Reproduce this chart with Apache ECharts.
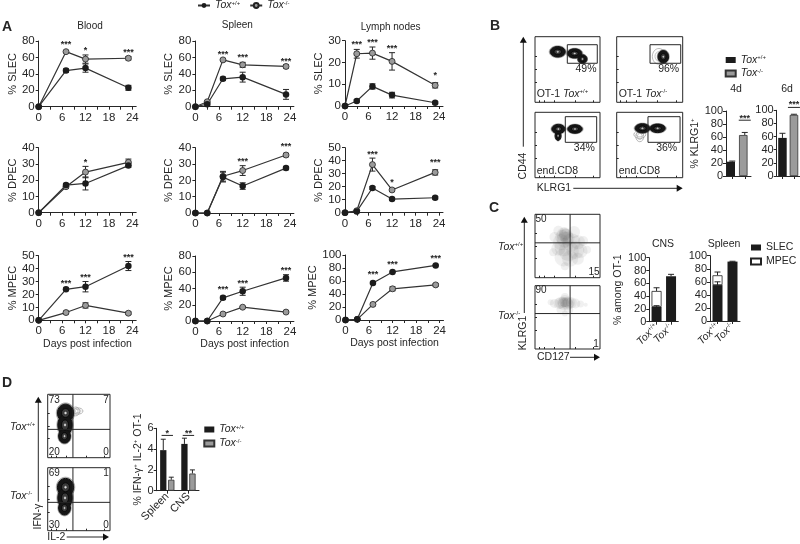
<!DOCTYPE html>
<html><head><meta charset="utf-8">
<style>html,body{margin:0;padding:0;background:#fff}#c{width:800px;height:544px}</style>
<script src="https://cdn.jsdelivr.net/npm/echarts@6/dist/echarts.min.js"></script>
</head><body><div id="c"></div>
<script>
// ---------- data ----------
const daysBlood=[0,7,12,23];
const daysOther=[0,3,7,12,23];
const xTickVals=[0,3,6,9,12,15,18,21,24];
const xLabelVals=[0,6,12,18,24];

const bloodSlecWt=[0,44,47,23], bloodSlecWtErr=[0,2,5,3];
const bloodSlecKo=[0,67,58,59], bloodSlecKoErr=[0,1,5,2];
const bloodSlecStars=[[7,77.6,'***'],[12,71,'*'],[23,69,'***']];
const bloodDpecWt=[0,17,18,29], bloodDpecWtErr=[0,1,4,1];
const bloodDpecKo=[0,16,25,31], bloodDpecKoErr=[0,1,3.5,2];
const bloodDpecStars=[[12,32.4,'*']];
const bloodMpecWt=[0,24,26,42], bloodMpecWtErr=[0,1,4,3.5];
const bloodMpecKo=[0,6,11.5,5.5], bloodMpecKoErr=[0,1,2,1];
const bloodMpecStars=[[7,30,'***'],[12,34.3,'***'],[23,50,'***']];

const spleenSlecWt=[0,3,34,36,15], spleenSlecWtErr=[0,1,2,6,6];
const spleenSlecKo=[0,6,57,51,49], spleenSlecKoErr=[0,1,1,3,2];
const spleenSlecStars=[[7,66,'***'],[12,62,'***'],[23,58,'***']];
const spleenDpecWt=[0,0,22,16.5,27.5], spleenDpecWtErr=[0,0,3,2,1];
const spleenDpecKo=[0,0,22.5,26,35.5], spleenDpecKoErr=[0,0,3,3,1];
const spleenDpecStars=[[12,33,'***'],[23,41.7,'***']];
const spleenMpecWt=[0,0,28.5,36.6,53], spleenMpecWtErr=[0,0,2,5,4];
const spleenMpecKo=[0,0,8.6,17,11], spleenMpecKoErr=[0,0,1,1,1];
const spleenMpecStars=[[7,41,'***'],[12,48.4,'***'],[23,65,'***']];

const lymphSlecWt=[0,2.3,9,5,1.5], lymphSlecWtErr=[0,.5,1.2,1.3,.5];
const lymphSlecKo=[0,24,24.3,20.5,9.5], lymphSlecKoErr=[0,2,2.8,4,1.2];
const lymphSlecStars=[[3,29,'***'],[7,30.2,'***'],[12,27.4,'***'],[23,14.7,'*']];
const lymphDpecWt=[0,1,19,10.5,11.5], lymphDpecWtErr=[0,.5,1,1,1];
const lymphDpecKo=[0,1.5,37,17.5,31], lymphDpecKoErr=[0,.5,5,1,2];
const lymphDpecStars=[[7,46,'***'],[12,25,'*'],[23,40,'***']];
const lymphMpecWt=[0,1,57,74,84], lymphMpecWtErr=[0,.5,1,1,1];
const lymphMpecKo=[0,1,24,48,54], lymphMpecKoErr=[0,.5,2,3,2];
const lymphMpecStars=[[7,72.8,'***'],[12,87.7,'***'],[23,97,'***']];

const genotypes=['Tox+/+','Tox-/-'];
const klrg4d=[22,63], klrg4dErr=[1,4];
const klrg6d=[58,93], klrg6dErr=[7,1];
const cnsSlec=[23,71], cnsSlecErr=[2,3];
const cnsMpec=[25,null], cnsMpecErr=[5,0];
const spleenSlec=[55,91], spleenSlecErr=[5,.5];
const spleenMpec=[15,null], spleenMpecErr=[5,0];
const ifnCats=['Spleen','CNS'];
const ifnWt=[3.9,4.5], ifnWtErr=[1.05,.55];
const ifnKo=[1.05,1.65], ifnKoErr=[.25,.35];

// flow plots, in percent of each plot's box: gate [x0,y0,x1,y1]; contour [x,y,rx,ry]
const gateB1=[49.7,59.5,95.8,87.8], blobsB1=[[35,77,11.5,8],[61,74.5,11,7],[73,66,7,6.5]];
const gateB2=[50.5,59.5,97,87.8], blobsB2=[[70.6,69.5,8,9.5]], ringsB2=[[64,70,10,12]];
const gateB3=[46.6,54.1,94.9,93.3], blobsB3=[[35.5,64,4.5,7],[36,74.5,10,7],[61.5,74.5,11,6.5]];
const gateB4=[47.4,54.1,96,93.3], blobsB4=[[39,75.5,11,7],[62,75.5,11.5,6.5]], ringsB4=[[35,63,6,8],[35,66,9,6]];
const quadC=[54,55], quadC2=[54,56];
const cloudC1=[[46,68,12],[44,68,14],[48,66,14],[46,70,12],[42,64,14],[50,62,14],[46,60,16],[40,56,16],[56,56,18],[66,56,14],[44,48,18],[52,42,20],[62,44,18],[70,42,14],[36,46,14],[44,32,18],[54,30,16],[66,30,12],[74,58,10],[30,64,10],[60,72,12],[36,74,10],[80,44,8],[46,18,8],[28,40,8]];
const cloudC2=[[46,74,10],[43,74,11],[49,74,11],[40,73,12],[52,73,12],[37,72,11],[56,73,11],[46,76,12],[44,71,12],[50,71,12],[30,72,9],[62,72,10],[70,71,7],[46,82,8],[52,62,9],[40,62,9],[46,56,6],[24,74,6],[78,70,4]];
const quadD1=[40.5,44.7], quadD2=[40.5,45];
const blobsD1=[[28.6,70.5,13,14],[27.8,51.6,11.5,16],[27,34,9.5,11]], ringsD1=[[48.6,73.6,8,5],[45,73,6,7]];
const blobsD2=[[28.6,69,13,14],[27.8,52,11.5,16],[27,36,9.5,11]];

// ---------- helpers ----------
const INK='#262626', GREY='#9b9b9b', FONT='"Liberation Sans",Arial,sans-serif';
const grids=[],xAxes=[],yAxes=[],series=[];
const axisBase=()=>({axisLine:{show:true,onZero:false,lineStyle:{color:INK,width:1}},
  axisTick:{show:true,length:3,lineStyle:{color:INK,width:1}},splitLine:{show:false},
  axisLabel:{color:INK,fontFamily:FONT,fontSize:11.5}});
const richTox={i:{fontStyle:'italic',fontFamily:FONT,fontSize:10.5,color:INK},s:{fontFamily:FONT,fontSize:6,color:INK,verticalAlign:'top',padding:[0,0,4,0]}};
const toxRich=n=>'{i|Tox}{s|'+n.replace('Tox','').replace(/ .*/,'')+'}';

function lines(list,color,width){return list.map(l=>({type:'line',shape:{x1:l[0],y1:l[1],x2:l[2],y2:l[3]},style:{stroke:color||INK,lineWidth:width||1}}));}
function errSeries(g,xs,vals,errs,opt){opt=opt||{};
  const base=opt.base||vals.map(()=>0);
  const data=xs.map((x,i)=>[x,(vals[i]||0)+base[i],errs[i]]);
  series.push({type:'custom',xAxisIndex:g,yAxisIndex:g,z:opt.z||3,silent:true,data,
   renderItem(p,api){const x=api.value(0),y=api.value(1),e=api.value(2);
    if(!e)return;const dx=opt.dx||0,c=opt.cap||3;
    const a=api.coord([x,y+e]),b=api.coord([x,opt.up?y:y-e]);
    const ls=[[a[0]+dx,a[1],b[0]+dx,b[1]],[a[0]+dx-c,a[1],a[0]+dx+c,a[1]]];
    if(!opt.up)ls.push([b[0]+dx-c,b[1],b[0]+dx+c,b[1]]);
    return {type:'group',children:lines(ls)};}});
}
function starSeries(g,data,opt){opt=opt||{};
  series.push({type:'custom',xAxisIndex:g,yAxisIndex:g,z:6,silent:true,data:data.map(d=>[d[0],d[1]]),
   renderItem(p,api){const d=data[p.dataIndex],c=api.coord([d[0],d[1]]);const kids=[];
    if(opt.bracket){kids.push(...lines([[c[0]-opt.bracket,c[1]+(opt.gap||4),c[0]+opt.bracket,c[1]+(opt.gap||4)]]));}
    kids.push({type:'text',x:c[0],y:c[1]+2,style:{text:d[2],align:'center',verticalAlign:'middle',font:'bold 9px '+FONT,fill:INK}});
    return {type:'group',children:kids};}});
}
function linePanel(left,y0,yTop,perDay,yMax,yInt,yName,nameGap,xs,wt,wtE,ko,koE,stars,xName){
  const g=grids.length;
  grids.push({left,top:yTop,width:perDay*25,height:y0-yTop});
  const xa=axisBase();
  xAxes.push(Object.assign(xa,{gridIndex:g,type:'value',min:0,max:25,interval:6,
    axisTick:Object.assign(xa.axisTick,{customValues:xTickVals}),
    axisLabel:Object.assign(xa.axisLabel,{customValues:xLabelVals,margin:5}),
    name:xName||'',nameLocation:'middle',nameGap:16,nameTextStyle:{color:INK,fontFamily:FONT,fontSize:10.5}}));
  const ya=axisBase();
  yAxes.push(Object.assign(ya,{gridIndex:g,type:'value',min:0,max:yMax,interval:yInt,
    axisLabel:Object.assign(ya.axisLabel,{margin:4}),
    name:yName,nameLocation:'middle',nameGap,nameTextStyle:{color:INK,fontFamily:FONT,fontSize:11}}));
  errSeries(g,xs,wt,wtE,{z:2}); errSeries(g,xs,ko,koE,{z:2});
  const mk=(name,v,fill)=>series.push({type:'line',name,xAxisIndex:g,yAxisIndex:g,z:4,clip:false,
    data:xs.map((x,i)=>[x,v[i]]),symbol:'circle',symbolSize:name==='Tox+/+'?6.5:6,showSymbol:true,
    lineStyle:{color:'#333',width:1.2},itemStyle:{color:fill,borderColor:'#222',borderWidth:name==='Tox+/+'?0:.8}});
  mk('Tox-/-',ko,GREY); mk('Tox+/+',wt,'#1c1c1c');
  starSeries(g,stars);
}
function barAxes(left,y0,yTop,width,cats,yMax,yInt,opts){opts=opts||{};
  const g=grids.length;
  grids.push({left,top:yTop,width,height:y0-yTop});
  const xa=axisBase();
  xAxes.push(Object.assign(xa,{gridIndex:g,type:'category',data:cats,
    axisTick:Object.assign(xa.axisTick,{alignWithLabel:true,interval:0}),
    axisLabel:opts.rotate?{interval:0,rotate:45,margin:4,color:INK,fontFamily:FONT,fontSize:11,
      formatter:opts.tox?toxRich:undefined,rich:richTox}:{show:false}}));
  const ya=axisBase();
  yAxes.push(Object.assign(ya,{gridIndex:g,type:'value',min:0,max:yMax,interval:yInt,
    axisLabel:Object.assign(ya.axisLabel,{margin:3,fontSize:11}),name:opts.name||'',nameLocation:'middle',nameGap:opts.gap||20,
    nameTextStyle:{color:INK,fontFamily:FONT,fontSize:10.5,rich:{a:{fontFamily:FONT,fontSize:10.5,color:INK},s:{fontFamily:FONT,fontSize:6,color:INK,verticalAlign:'top'}}}}));
  return g;
}
function flowBox(left,top,w,h){
  const g=grids.length;
  grids.push({show:true,left,top,width:w,height:h,borderColor:INK,borderWidth:1,backgroundColor:'#fff'});
  const tick=v=>({show:true,inside:true,length:2,lineStyle:{color:INK},customValues:v});
  xAxes.push({gridIndex:g,type:'value',min:0,max:100,axisLine:{show:false},axisTick:tick([6,14,30,62,90]),axisLabel:{show:false},splitLine:{show:false}});
  yAxes.push({gridIndex:g,type:'value',min:0,max:100,axisLine:{show:false},axisTick:tick([30,50,70]),axisLabel:{show:false},splitLine:{show:false}});
  return g;
}
function ell(c,s,k,fill,stroke,lw){return {type:'ellipse',shape:{cx:c[0],cy:c[1],rx:s[0]*k,ry:s[1]*k},style:{fill,stroke,lineWidth:lw}};}
function contourSeries(g,blobs,light){
  const render=draw=>(p,api)=>draw(api.coord([api.value(0),api.value(1)]),api.size([api.value(2),api.value(3)]));
  if(light){
    series.push({type:'custom',xAxisIndex:g,yAxisIndex:g,z:2,silent:true,data:blobs,
      renderItem:render((c,s)=>({type:'group',children:[ell(c,s,1,'none','#999',.7),ell(c,s,.6,'none','#aaa',.7)]}))});
    return;
  }
  series.push({type:'custom',xAxisIndex:g,yAxisIndex:g,z:2,silent:true,data:blobs,
    renderItem:render((c,s)=>ell(c,s,1.14,'#b5b5b5','#888',.6))});
  series.push({type:'custom',xAxisIndex:g,yAxisIndex:g,z:3,silent:true,data:blobs,
    renderItem:render((c,s)=>ell(c,s,1,'#161616','#111',1))});
  series.push({type:'custom',xAxisIndex:g,yAxisIndex:g,z:4,silent:true,data:blobs,
    renderItem:render((c,s)=>({type:'group',children:[ell(c,s,.5,'#3a3a3a','#000',.7),ell(c,s,.12,'#ddd','#ddd',.4)]}))});
}
function gateSeries(g,gate){
  series.push({type:'custom',xAxisIndex:g,yAxisIndex:g,z:5,silent:true,data:[gate],
   renderItem(p,api){const a=api.coord([api.value(0),api.value(1)]),b=api.coord([api.value(2),api.value(3)]);
    return {type:'rect',shape:{x:a[0],y:b[1],width:b[0]-a[0],height:a[1]-b[1]},style:{fill:'none',stroke:INK,lineWidth:1}};}});
}
function quadSeries(g,q){
  series.push({type:'custom',xAxisIndex:g,yAxisIndex:g,z:5,silent:true,data:[q],
   renderItem(p,api){const x=api.value(0),y=api.value(1),a=api.coord([x,0]),b=api.coord([x,100]),c=api.coord([0,y]),d=api.coord([100,y]);
    return {type:'group',children:lines([[a[0],a[1],b[0],b[1]],[c[0],c[1],d[0],d[1]]])};}});
}
function cloudSeries(g,pts){
  series.push({type:'scatter',xAxisIndex:g,yAxisIndex:g,z:2,silent:true,data:pts,symbolSize:v=>v[2],
    itemStyle:{color:'rgba(60,60,60,.09)',shadowBlur:6,shadowColor:'rgba(60,60,60,.18)'}});
}

// ---------- panel A ----------
const pb=3.9,ps=3.94,pl=3.92;
linePanel(38.7,106.7,41,pb,80,20,'% SLEC',18,daysBlood,bloodSlecWt,bloodSlecWtErr,bloodSlecKo,bloodSlecKoErr,bloodSlecStars);
linePanel(38.7,212.7,147.7,pb,40,10,'% DPEC',18,daysBlood,bloodDpecWt,bloodDpecWtErr,bloodDpecKo,bloodDpecKoErr,bloodDpecStars);
linePanel(38.7,320.3,255.7,pb,50,10,'% MPEC',18,daysBlood,bloodMpecWt,bloodMpecWtErr,bloodMpecKo,bloodMpecKoErr,bloodMpecStars,'Days post infection');
linePanel(195.4,106.7,41,ps,80,20,'% SLEC',21,daysOther,spleenSlecWt,spleenSlecWtErr,spleenSlecKo,spleenSlecKoErr,spleenSlecStars);
linePanel(195.4,213,147.7,ps,40,10,'% DPEC',21,daysOther,spleenDpecWt,spleenDpecWtErr,spleenDpecKo,spleenDpecKoErr,spleenDpecStars);
linePanel(195.4,321,256,ps,80,20,'% MPEC',21,daysOther,spleenMpecWt,spleenMpecWtErr,spleenMpecKo,spleenMpecKoErr,spleenMpecStars,'Days post infection');
linePanel(345,106,40.7,pl,30,10,'% SLEC',21,daysOther,lymphSlecWt,lymphSlecWtErr,lymphSlecKo,lymphSlecKoErr,lymphSlecStars);
linePanel(345,212.7,147.7,pl,50,10,'% DPEC',21,daysOther,lymphDpecWt,lymphDpecWtErr,lymphDpecKo,lymphDpecKoErr,lymphDpecStars);
linePanel(345.5,320,255,pl,100,20,'% MPEC',21,daysOther,lymphMpecWt,lymphMpecWtErr,lymphMpecKo,lymphMpecKoErr,lymphMpecStars,'Days post infection');

// ---------- panel B ----------
[[535,36.7,65,65.6,gateB1,blobsB1],[616.7,36.7,66,65.6,gateB2,blobsB2,ringsB2],[535,112.3,65,65.4,gateB3,blobsB3],[616.7,112.3,66,65.4,gateB4,blobsB4,ringsB4]].forEach(b=>{
  const g=flowBox(b[0],b[1],b[2],b[3]);if(b[6])contourSeries(g,b[6],true);contourSeries(g,b[5]);gateSeries(g,b[4]);});
function simpleBars(g,vals,errs,name,barWidth){
  series.push({type:'bar',name,xAxisIndex:g,yAxisIndex:g,barWidth,z:2,
    data:vals.map((v,i)=>({value:v,itemStyle:i?{color:GREY,borderColor:'#333',borderWidth:.8}:{color:'#1c1c1c'}}))});
  errSeries(g,[0,1],vals,errs,{up:true,cap:3,z:1});
}
const gB1=barAxes(726,176,111,25,genotypes,100,20,{name:'{a|% KLRG1}{s|+}',gap:22});
simpleBars(gB1,klrg4d,klrg4dErr,'sw',8.5);
starSeries(gB1,[[0.5,92,'***']],{bracket:6,gap:4});
const gB2=barAxes(776.7,176,110.3,23,genotypes,100,20);
simpleBars(gB2,klrg6d,klrg6dErr,'sw',8.5);
starSeries(gB2,[[0.5,112,'***']],{bracket:6,gap:5});
// swatches for the shared legend
['Tox+/+ ','Tox-/- '].forEach((n,i)=>series.push({type:'bar',name:n,xAxisIndex:gB1,yAxisIndex:gB1,data:[],itemStyle:i?{color:GREY,borderColor:'#333',borderWidth:.8}:{color:'#1c1c1c'}}));

// ---------- panel C ----------
const gC1=flowBox(535,214.3,65,63.4);cloudSeries(gC1,cloudC1);quadSeries(gC1,quadC);
const gC2=flowBox(535,285.7,65,63.3);cloudSeries(gC2,cloudC2);quadSeries(gC2,quadC2);
function stackBars(g,s,m,sE,mE){
  const gs='st'+g;
  series.push({type:'bar',name:'SLEC',stack:gs,xAxisIndex:g,yAxisIndex:g,barWidth:10,z:3,data:s,itemStyle:{color:'#1c1c1c'}});
  series.push({type:'bar',name:'MPEC',stack:gs,xAxisIndex:g,yAxisIndex:g,barWidth:10,z:2,data:m,itemStyle:{color:'#fff',borderColor:'#222',borderWidth:.8}});
  errSeries(g,[0,1],s,sE,{up:true,cap:3,z:4});
  errSeries(g,[0,1],m,mE,{up:true,cap:3,z:1,base:s});
}
const gC3=barAxes(649.3,321.7,257.7,29,genotypes,100,20,{rotate:true,tox:true,name:'% among OT-1',gap:20});
stackBars(gC3,cnsSlec,cnsMpec,cnsSlecErr,cnsMpecErr);
const gC4=barAxes(710,321,255.7,30,genotypes,100,20,{rotate:true,tox:true});
stackBars(gC4,spleenSlec,spleenMpec,spleenSlecErr,spleenMpecErr);

// ---------- panel D ----------
const gD1=flowBox(47.7,394.3,62.3,63.4);contourSeries(gD1,ringsD1,true);contourSeries(gD1,blobsD1);quadSeries(gD1,quadD1);
const gD2=flowBox(47.7,467.7,62.3,63);contourSeries(gD2,blobsD2);quadSeries(gD2,quadD2);
const gD3=barAxes(156.7,490.7,428.3,42.3,ifnCats,6,2,{rotate:true,name:'{a|% IFN-γ}{s|+}{a| IL-2}{s|+}{a| OT-1}',gap:12});
const dBar=(name,v,col,bc)=>series.push({type:'bar',name,xAxisIndex:gD3,yAxisIndex:gD3,barWidth:6.3,barGap:'27%',z:2,data:v,itemStyle:{color:col,borderColor:bc,borderWidth:bc?.8:0}});
dBar('Tox+/+  ',ifnWt,'#1c1c1c');dBar('Tox-/-  ',ifnKo,GREY,'#333');
errSeries(gD3,[0,1],ifnWt,ifnWtErr,{up:true,cap:2.5,dx:-4,z:1});
errSeries(gD3,[0,1],ifnKo,ifnKoErr,{up:true,cap:2.5,dx:4,z:1});
starSeries(gD3,[[0,5.7,'*'],[1,5.7,'**']],{bracket:5.7,gap:4});

// ---------- annotation text & arrows ----------
const gfx=[];
const T=(x,y,text,o)=>{o=o||{};gfx.push({type:'text',x,y,rotation:o.rot||0,z:20,silent:true,style:{text,align:o.align||'left',verticalAlign:'middle',
  font:(o.w||'normal')+' '+(o.size||10.5)+'px '+FONT,fill:INK,rich:o.rich}});};
const TOX=n=>'{i|Tox}{s|'+n+'}';
[['A',5,27],['B',493,26],['C',492,208],['D',5,383]].forEach(l=>T(l[1]-3,l[2],l[0],{w:'bold',size:14}));
T(90,26.7,'Blood',{align:'center',size:10});T(237.3,25,'Spleen',{align:'center',size:10});T(390.7,27,'Lymph nodes',{align:'center',size:10});
// B labels
T(586,69,'49%',{align:'center'});T(668.7,69,'96%',{align:'center'});T(584.3,148.3,'34%',{align:'center'});T(666.7,148.3,'36%',{align:'center'});
T(536.7,93.7,'OT-1 '+TOX('+/+'),{rich:richTox});T(618.7,93.7,'OT-1 '+TOX('-/-'),{rich:richTox});
T(536.7,171.3,'end.CD8');T(618.7,171.3,'end.CD8');
T(736,89,'4d',{align:'center'});T(787,89,'6d',{align:'center'});
T(536.7,188.3,'KLRG1');T(523,166,'CD44',{rot:Math.PI/2,align:'center'});
// C labels
[[541,219,'50'],[594,272.7,'15'],[541,290,'90'],[596,344,'1']].forEach(a=>T(a[0],a[1],a[2],{align:'center',size:10}));
T(498,246.7,TOX('+/+'),{rich:richTox});T(498,316,TOX('-/-'),{rich:richTox});
T(663,244,'CNS',{align:'center'});T(724,244,'Spleen',{align:'center'});
T(537,357.3,'CD127');T(523,333,'KLRG1',{rot:Math.PI/2,align:'center'});
// D labels
[[54.3,400.7,'73'],[106,400.7,'7'],[54.3,452.7,'20'],[106,452.7,'0'],[54.3,473,'69'],[106,473,'1'],[54.3,525.7,'30'],[106,525.7,'0']].forEach(a=>T(a[0],a[1],a[2],{align:'center',size:10}));
T(10,426.7,TOX('+/+'),{rich:richTox});T(10,496,TOX('-/-'),{rich:richTox});
T(47.3,537,'IL-2');T(38,516.7,'IFN-γ',{rot:Math.PI/2,align:'center'});
// arrows
function arrowUp(x,y1,y2){gfx.push({type:'line',z:20,silent:true,shape:{x1:x,y1,x2:x,y2:y2+4},style:{stroke:INK,lineWidth:1}});
  gfx.push({type:'polygon',z:20,silent:true,shape:{points:[[x,y2],[x-3.5,y2+6],[x+3.5,y2+6]]},style:{fill:'#111'}});}
function arrowRight(y,x1,x2){gfx.push({type:'line',z:20,silent:true,shape:{x1,y1:y,x2:x2-4,y2:y},style:{stroke:INK,lineWidth:1}});
  gfx.push({type:'polygon',z:20,silent:true,shape:{points:[[x2,y],[x2-6,y-3.5],[x2-6,y+3.5]]},style:{fill:'#111'}});}
arrowUp(523.3,146.7,36.7);arrowRight(188.3,573.3,682.7);
arrowUp(524.3,313,216.7);arrowRight(357.3,570,600);
arrowUp(38.3,501.7,396.7);arrowRight(537,66.7,109);

const legendBase={selectedMode:false,orient:'vertical',textStyle:{rich:richTox},formatter:n=>toxRich(n.trim())};
const option={animation:false,backgroundColor:'#fff',textStyle:{fontFamily:FONT},
  grid:grids,xAxis:xAxes,yAxis:yAxes,series,graphic:gfx,
  legend:[
   Object.assign({},legendBase,{orient:'horizontal',left:197,top:0,itemWidth:12,itemHeight:6,itemGap:9,padding:0,data:['Tox+/+','Tox-/-']}),
   Object.assign({},legendBase,{left:724.7,top:54.5,icon:'rect',itemWidth:10,itemHeight:6,itemGap:2.5,padding:0,data:['Tox+/+ ','Tox-/- ']}),
   Object.assign({},legendBase,{left:203.3,top:424,icon:'rect',itemWidth:10,itemHeight:6,itemGap:3,padding:0,data:['Tox+/+  ','Tox-/-  ']}),
   {selectedMode:false,orient:'vertical',left:750,top:242,icon:'rect',itemWidth:10,itemHeight:6,itemGap:3,padding:0,data:['SLEC','MPEC'],
    textStyle:{color:INK,fontFamily:FONT,fontSize:10.5}}
  ]};
echarts.init(document.getElementById('c'),null,{renderer:'canvas'}).setOption(option);
</script></body></html>
